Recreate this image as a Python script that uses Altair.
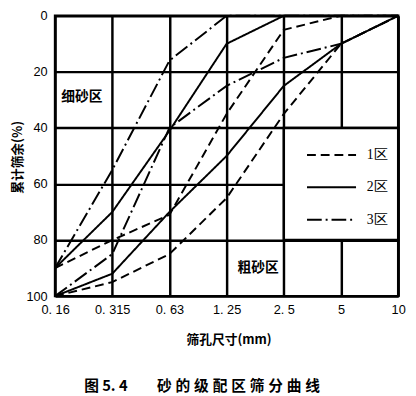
import altair as alt
import pandas as pd

# Sieve sizes (category axis, evenly spaced)
sieve_labels = ["0. 16", "0. 315", "0. 63", "1. 25", "2. 5", "5", "10"]
y_ticks = [0, 20, 40, 60, 80, 100]

zones = ["1区", "2区", "3区"]
# Cumulative retained (%) boundaries for each grading zone
zone1_fine = [90, 80, 71, 35, 5, 0, 0]
zone1_coarse = [100, 95, 85, 65, 35, 10, 0]
zone2_fine = [90, 70, 41, 10, 0, 0, 0]
zone2_coarse = [100, 92, 70, 50, 25, 10, 0]
zone3_fine = [90, 55, 16, 0, 0, 0, 0]
zone3_coarse = [100, 85, 40, 25, 15, 10, 0]

series = [
    ("1区", "fine", zone1_fine),
    ("1区", "coarse", zone1_coarse),
    ("2区", "fine", zone2_fine),
    ("2区", "coarse", zone2_coarse),
    ("3区", "fine", zone3_fine),
    ("3区", "coarse", zone3_coarse),
]
rows = []
for zone, bound, vals in series:
    for i, v in enumerate(vals):
        rows.append({"zone": zone, "bound": zone + bound, "idx": i, "value": v})
df = pd.DataFrame(rows)

# Region annotations
notes = pd.DataFrame({
    "idx": [0.47, 3.55],
    "value": [29, 90],
    "text": ["细砂区", "粗砂区"],
})

# Legend box region (no grid inside)
box = pd.DataFrame({"idx": [4], "idx2": [6], "value": [40], "value2": [80]})

label_expr = "[" + ",".join("'" + s + "'" for s in sieve_labels) + "][datum.value]"

x_enc = alt.X(
    "idx:Q",
    scale=alt.Scale(domain=[0, len(sieve_labels) - 1], nice=False, zero=False),
    axis=alt.Axis(
        values=list(range(len(sieve_labels))),
        labelExpr=label_expr,
        title="筛孔尺寸(mm)",
        grid=True,
        ticks=False,
        domain=False,
        labelPadding=8,
        labelFontSize=13,
        labelFont="Liberation Sans",
        labelColor="black",
        titleFontSize=13,
        titleFont="Noto Sans CJK SC",
        titleFontWeight="bold",
        titleColor="black",
        titleX=177,
        titleY=44,
        titleBaseline="middle",
        gridColor="black",
        gridWidth=2.5,
        gridOpacity=1,
        labelFlush=False,
    ),
)
y_enc = alt.Y(
    "value:Q",
    scale=alt.Scale(domain=[0, 100], reverse=True, nice=False),
    axis=alt.Axis(
        values=y_ticks,
        title="累计筛余(%)",
        grid=True,
        ticks=False,
        domain=False,
        labelPadding=8,
        labelFontSize=13,
        labelFont="Liberation Sans",
        labelColor="black",
        titleFontSize=13,
        titleFont="Noto Sans CJK SC",
        titleFontWeight="bold",
        titleColor="black",
        titleX=-38,
        titleY=144,
        titleAngle=-90,
        titleBaseline="middle",
        titleAlign="center",
        gridColor="black",
        gridWidth=2.5,
        gridOpacity=1,
    ),
)

lines = alt.Chart(df).mark_line(color="black", strokeWidth=2).encode(
    x=x_enc,
    y=y_enc,
    detail="bound:N",
    strokeDash=alt.StrokeDash(
        "zone:N",
        scale=alt.Scale(domain=zones, range=[[9, 5], [1, 0], [15, 4, 2, 4]]),
        legend=alt.Legend(
            title=None,
            orient="none",
            legendX=256,
            legendY=116,
            symbolType="stroke",
            symbolSize=2500,
            symbolStrokeWidth=2,
            symbolStrokeColor="black",
            labelFontSize=14,
            labelFont="Liberation Serif",
            labelColor="black",
            labelOffset=10,
            rowPadding=0,
        ),
    ),
)

box_layer = alt.Chart(box).mark_rect(fill="white", stroke="black", strokeWidth=2.5).encode(
    x=x_enc, x2="idx2", y=y_enc, y2="value2"
)

text_layer = alt.Chart(notes).mark_text(
    font="Noto Sans CJK SC", fontSize=14, fontWeight="bold", color="black"
).encode(x=x_enc, y=y_enc, text="text:N")

caption = "图 5. 4\u2003\u2003" + "\u2009\u200a".join("砂的级配区筛分曲线")

chart = (
    alt.layer(box_layer, lines, text_layer)
    .properties(
        width=350,
        height=286,
        autosize=alt.AutoSizeParams(type="none"),
        padding={"left": 48, "top": 4, "right": 10, "bottom": 100},
        title=alt.TitleParams(
            caption,
            orient="bottom",
            anchor="middle",
            fontSize=15,
            font="Noto Sans CJK SC",
            fontWeight="bold",
            color="black",
            offset=34,
            dx=-25,
        ),
    )
    .configure_view(stroke="black", strokeWidth=2.5)
    .configure_axis(gridColor="black", gridWidth=2.5, gridOpacity=1)
)

chart.save("out.html", embed_options={"renderer": "svg", "actions": False})
